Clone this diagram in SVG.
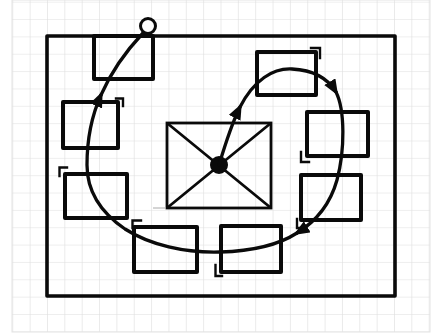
<svg xmlns="http://www.w3.org/2000/svg" width="439" height="335" viewBox="0 0 439 335">
<style>
.box{fill:none;stroke:#0a0a0a;stroke-width:4;stroke-linejoin:round}
.frame{fill:none;stroke:#0a0a0a;stroke-width:3.6;stroke-linejoin:round}
.mark{fill:none;stroke:#0a0a0a;stroke-width:2.4;stroke-linecap:square}
.flow{fill:none;stroke:#0a0a0a;stroke-width:3.3;stroke-linecap:round}
.thin{fill:none;stroke:#0a0a0a;stroke-width:2.8}
</style>
<defs>
<pattern id="grid" patternUnits="userSpaceOnUse" x="12.3" y="1.7" width="17.35" height="17.35">
<path d="M0,0 H17.35 M0,0 V17.35" fill="none" stroke="#dedede" stroke-width="1.2"/>
</pattern>
<marker id="arr" markerUnits="userSpaceOnUse" markerWidth="18" markerHeight="14" refX="12" refY="6.5" orient="auto">
<path d="M0,0 L16,6.5 L0,13 Z" fill="#0a0a0a"/>
</marker>
</defs>
<rect x="0" y="0" width="439" height="335" fill="#fff"/>
<rect x="12" y="0" width="418" height="332" fill="url(#grid)"/>
<rect x="12" y="0" width="418" height="332" fill="none" stroke="#e4e4e4" stroke-width="1"/>

<g id="frame"><rect class="frame" x="47" y="36" width="348" height="260"/></g>

<g id="center">
<rect class="thin" x="167" y="123" width="104" height="85" stroke-width="3.3"/>
<path class="thin" d="M167,123 L271,208 M271,123 L167,208"/>
<circle cx="219" cy="165" r="9" fill="#0a0a0a"/>
<line x1="153" y1="208" x2="166" y2="208" stroke="#aaa" stroke-width="1"/>
</g>

<g id="box-top"><rect class="box" x="94" y="36" width="59" height="43"/></g>
<g id="box-left-upper"><rect class="box" x="63" y="102" width="55" height="46"/><path class="mark" d="M116,98.5 H123 V106"/></g>
<g id="box-left-middle"><rect class="box" x="65" y="174" width="62" height="44"/><path class="mark" d="M67,167.5 H59.5 V176"/></g>
<g id="box-bottom-left"><rect class="box" x="134" y="227" width="63" height="45"/><path class="mark" d="M141,220.5 H132.5 V228"/></g>
<g id="box-bottom-right"><rect class="box" x="221" y="226" width="60" height="46"/><path class="mark" d="M215.5,265 V276 H222"/></g>
<g id="box-right-lower"><rect class="box" x="301" y="175" width="60" height="45"/><path class="mark" d="M297,219 V228 H304"/></g>
<g id="box-right-upper"><rect class="box" x="307" y="112" width="61" height="44"/><path class="mark" d="M301,152 V162 H309"/></g>
<g id="box-top-right"><rect class="box" x="257" y="52" width="59" height="43"/><path class="mark" d="M311,48 H320 V58"/></g>

<g id="start"><circle cx="148" cy="26" r="7.5" fill="#fff" stroke="#0a0a0a" stroke-width="3"/></g>

<g id="connectors">
<path class="flow" marker-end="url(#arr)" d="M219,165 C225,145 232,123 240,107"/>
<path class="flow" marker-end="url(#arr)" d="M240,107 C254,80 273,68 292,69 C311,70 327,77 336,92"/>
<path class="flow" marker-end="url(#arr)" d="M336,92 C345,110 345,150 337,180 C330,205 315,222 297,233"/>
<path class="flow" marker-end="url(#arr)" d="M297,233 C280,244 255,251 220,252 C185,253 150,245 125,229 C100,212 87,190 87,165 C87,140 92,115 101,95"/>
<path class="flow" d="M101,95 C112,70 127,50 143,33"/>
</g>
</svg>
